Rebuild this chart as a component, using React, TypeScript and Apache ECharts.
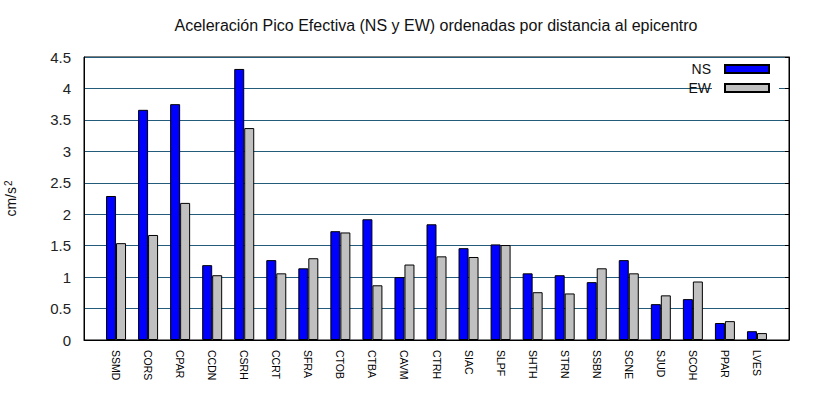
import React, { useEffect, useRef } from "react";
import * as echarts from "echarts";

const stations = [
  "SSMD", "CORS", "CPAR", "CCDN", "CSRH", "CCRT", "SFRA", "CTOB", "CTBA", "CAVM",
  "CTRH", "SIAC", "SLPF", "SHTH", "STRN", "SSBN", "SCNE", "SJUD", "SCOH", "PPAR", "LVES",
];
const nsValues = [
  2.29, 3.66, 3.75, 1.19, 4.31, 1.27, 1.14, 1.73, 1.92, 1.0,
  1.84, 1.46, 1.52, 1.06, 1.03, 0.92, 1.27, 0.57, 0.65, 0.27, 0.14,
];
const ewValues = [
  1.54, 1.67, 2.18, 1.03, 3.37, 1.06, 1.3, 1.71, 0.87, 1.2,
  1.33, 1.32, 1.51, 0.76, 0.74, 1.14, 1.06, 0.71, 0.93, 0.3, 0.11,
];
const yTicks = { min: 0, max: 4.5, interval: 0.5 };
const titleText = "Aceleración Pico Efectiva (NS y EW) ordenadas por distancia al epicentro";

const FONT = "'Liberation Sans', Arial, sans-serif";
const GRID_COLOR = "#245b7a";

export default function App() {
  const ref = useRef<HTMLDivElement>(null);
  useEffect(() => {
    if (!ref.current) return;
    const chart = echarts.init(ref.current, undefined, { renderer: "svg" });
    const cats = ["", ...stations, ""];
    const pad = (arr: number[]) => [null, ...arr, null];
    chart.setOption({
      animation: false,
      backgroundColor: "#ffffff",
      textStyle: { fontFamily: FONT },
      graphic: [
        {
          type: "text",
          x: 436,
          y: 25,
          style: {
            text: titleText,
            fontSize: 16,
            fontFamily: FONT,
            fill: "#111",
            textAlign: "center",
            textVerticalAlign: "middle",
          },
        },
        {
          type: "rect",
          z: 1,
          shape: { x: 712, y: 82, width: 67, height: 14 },
          style: { fill: "#ffffff" },
        },
      ],
      grid: {
        left: 84,
        right: 31,
        top: 57,
        bottom: 60,
        containLabel: false,
        outerBoundsMode: "none",
        show: true,
        borderColor: "#000",
        borderWidth: 1,
        backgroundColor: "transparent",
      },
      legend: {
        orient: "vertical",
        right: 50,
        top: 62,
        padding: 0,
        align: "right",
        itemWidth: 44,
        itemHeight: 8,
        itemGap: 5,
        icon: "rect",
        z: 5,
        textStyle: { fontSize: 14, color: "#111", fontFamily: FONT, padding: [0, 9, 0, 0] },
        data: ["NS", "EW"],
      },
      xAxis: {
        type: "category",
        data: cats,
        boundaryGap: false,
        axisLine: { show: true, lineStyle: { color: "#000" } },
        axisTick: { show: false },
        axisLabel: {
          interval: 0,
          rotate: -90,
          fontSize: 10.5,
          margin: 10,
          color: "#000",
          fontFamily: FONT,
        },
        splitLine: { show: false },
      },
      yAxis: [
        {
          type: "value",
          min: yTicks.min,
          max: yTicks.max,
          interval: yTicks.interval,
          name: "{a|cm/s}{b|2}",
          nameLocation: "middle",
          nameGap: 65,
          nameTextStyle: {
            rich: {
              a: { fontSize: 14, color: "#111", fontFamily: FONT },
              b: { fontSize: 10, color: "#111", fontFamily: FONT, verticalAlign: "top", padding: [0, 0, 6, 1] },
            },
          },
          axisLine: { show: true, lineStyle: { color: "#000" } },
          axisTick: { show: false },
          axisLabel: {
            fontSize: 15,
            color: "#222",
            margin: 13,
            fontFamily: FONT,
            formatter: (v: number) => String(v),
          },
          splitLine: { show: true, lineStyle: { color: GRID_COLOR, width: 1 } },
        },
        {
          type: "value",
          position: "right",
          min: yTicks.min,
          max: yTicks.max,
          interval: yTicks.interval,
          axisLine: { show: true, lineStyle: { color: "#000" } },
          axisTick: { show: true, inside: true, length: 4, lineStyle: { color: "#000" } },
          axisLabel: { show: false },
          splitLine: { show: false },
        },
      ],
      series: [
        {
          name: "NS",
          type: "bar",
          data: pad(nsValues),
          barWidth: 10,
          barGap: "0%",
          itemStyle: { color: "#0000ff", borderColor: "#000", borderWidth: 1 },
        },
        {
          name: "EW",
          type: "bar",
          data: pad(ewValues),
          barWidth: 10,
          barGap: "0%",
          itemStyle: { color: "#c0c0c0", borderColor: "#000", borderWidth: 1 },
        },
      ],
    });
    return () => chart.dispose();
  }, []);
  return (
    <div
      ref={ref}
      style={{ position: "fixed", left: 0, top: 0, width: 820, height: 400 }}
    />
  );
}
